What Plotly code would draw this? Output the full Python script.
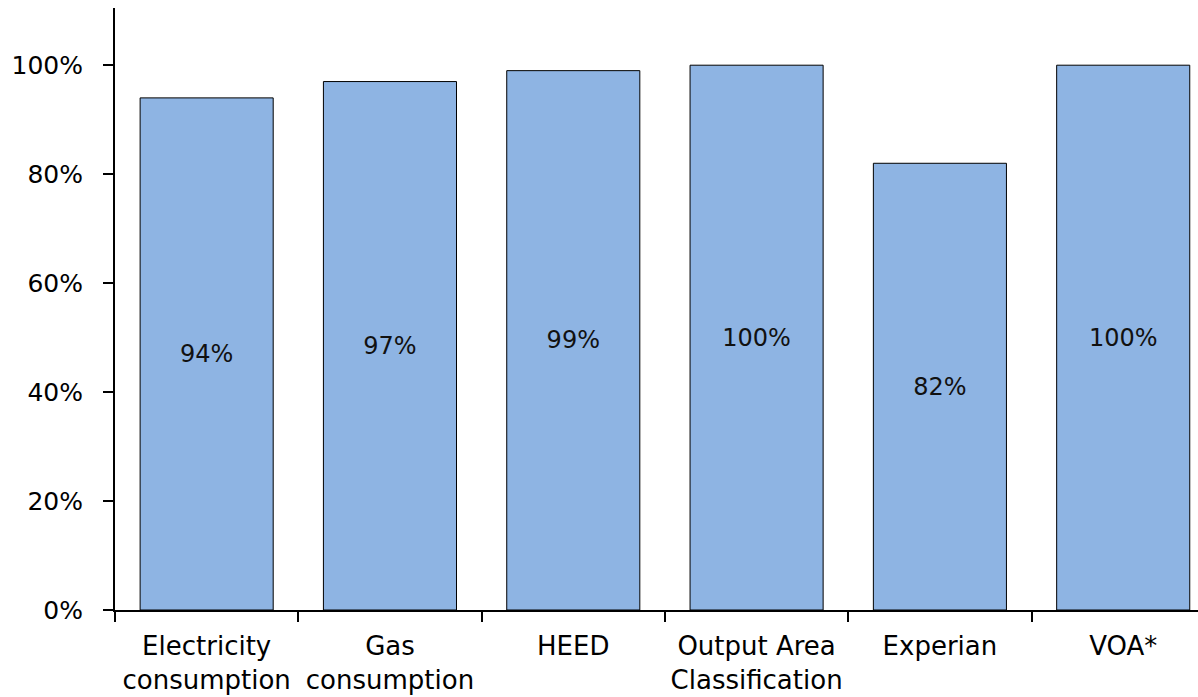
import plotly.graph_objects as go

categories = ["Electricity<br>consumption", "Gas<br>consumption", "HEED",
              "Output Area<br>Classification", "Experian", "VOA*"]
values = [0.94, 0.97, 0.99, 1.00, 0.82, 1.00]
labels = ["94%", "97%", "99%", "100%", "82%", "100%"]
y_ticks = [0, 0.2, 0.4, 0.6, 0.8, 1.0]
y_ticklabels = ["0%", "20%", "40%", "60%", "80%", "100%"]

fig = go.Figure(go.Bar(
    x=categories, y=values, text=labels,
    textposition="inside", insidetextanchor="middle",
    textfont=dict(family="DejaVu Sans", size=24, color="#111111"),
    textangle=0,
    marker=dict(color="#8EB4E3", line=dict(color="black", width=1)),
))

fig.update_layout(
    width=1198, height=697,
    margin=dict(l=115, r=0, t=8, b=87),
    plot_bgcolor="white", paper_bgcolor="white",
    bargap=0.274, showlegend=False,
    font=dict(family="DejaVu Sans", size=25, color="black"),
)
fig.update_xaxes(
    range=[-0.5, 5.408], showline=True, linecolor="black", linewidth=2,
    ticks="outside", tickson="boundaries", ticklen=10, tickwidth=2, tickcolor="black",
    tickfont=dict(size=26), showgrid=False, ticklabelstandoff=12,
)
fig.update_yaxes(
    range=[0, 1.105], showline=True, linecolor="black", linewidth=2,
    ticks="outside", ticklen=10, tickwidth=2, tickcolor="black",
    tickvals=y_ticks, ticktext=y_ticklabels, showgrid=False, zeroline=False,
    tickfont=dict(size=25), ticklabelstandoff=15,
)
fig.write_html("out.html")
